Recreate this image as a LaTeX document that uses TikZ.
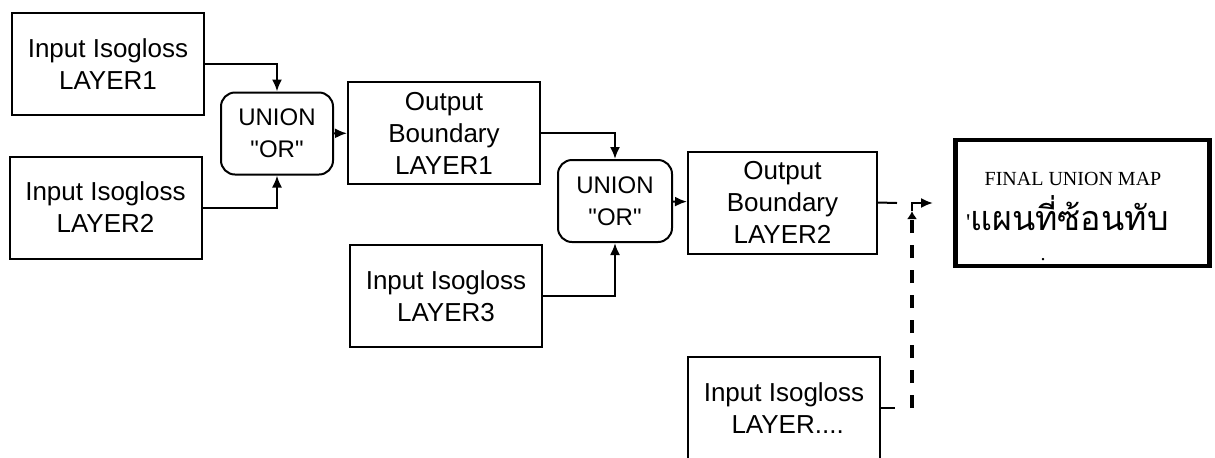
\documentclass[tikz,border=0pt]{standalone}
\usepackage{fontspec}
\setmainfont{Liberation Sans}
\newfontfamily\mapserif{Liberation Serif}
\newfontfamily\thaifont[Script=Thai]{Loma}
\usetikzlibrary{arrows.meta, positioning}

\begin{document}
\begin{tikzpicture}[x=0.5pt, y=-0.5pt, >={Latex[length=6pt,width=5pt]},
    font=\fontsize{13}{16}\selectfont, line width=1pt,
    layerbox/.style={draw, align=center, minimum width=96pt, minimum height=51pt, inner sep=0pt},
    unionbox/.style={draw, rounded corners=7pt, align=center, minimum width=56pt, minimum height=41pt,
      inner sep=0pt, font=\fontsize{12}{16}\selectfont}]
    \clip (0,0) rectangle (1215,457);
    % first union
    \node[layerbox] (in1) at (108,64) {Input Isogloss\\LAYER1};
    \node[layerbox] (in2) at (105.5,207.5) {Input Isogloss\\LAYER2};
    \node[unionbox] (u1) at (277,133.5) {UNION\\\textquotedbl OR\textquotedbl};
    \node[layerbox] (o1) at (444,133) {Output\\Boundary\\LAYER1};
    \draw[->] (in1.east) -| (u1.north);
    \draw[->] (in2.east) -| (u1.south);
    \draw[->] (u1) -- (o1);
    % second union
    \node[layerbox] (in3) at (446,296) {Input Isogloss\\LAYER3};
    \node[unionbox, minimum width=57pt] (u2) at (615,201) {UNION\\\textquotedbl OR\textquotedbl};
    \node[layerbox, minimum width=94.5pt] (o2) at (782.5,202.5) {Output\\Boundary\\LAYER2};
    \draw[->] (o1.east) -| (u2.north);
    \draw[->] (in3.east) -| (u2.south);
    \draw[->] (u2) -- (o2);
    % further layers
    \node[layerbox] (in4) at (784,408) {Input Isogloss\\\ LAYER....};
    \coordinate (o2stub) at (897,203);
    \coordinate (in4stub) at (895,408);
    \coordinate (jbot) at (912,408);
    \coordinate (jmid) at (912,211);
    \draw (o2.east) -- (o2stub);
    \draw (in4.east) -- (in4stub);
    \draw[line width=1.8pt, dash pattern=on 6.5pt off 6pt, -{Latex[length=4pt,width=5pt]}] (jbot) -- (jmid);
    \draw[->, shorten >=10pt] (jmid) |- (953,203);
    % result
    \node[draw, line width=2.2pt, minimum width=127pt, minimum height=63pt] (fin) at (1082.5,203) {};
    \node[font=\mapserif\fontsize{10}{12}\selectfont] (fintitle) at (1073,179) {FINAL UNION MAP};
    \node[anchor=base west, inner sep=0pt] (finthai) at (965,230) {{\mapserif\fontsize{12}{14}\selectfont'}\thaifont\fontsize{17}{19}\selectfont แผนที่ซ้อนทับ};
    \node[anchor=base, inner sep=0pt, font=\mapserif\fontsize{10}{12}\selectfont] (findot) at (1043,260) {.};
\end{tikzpicture}
\end{document}
